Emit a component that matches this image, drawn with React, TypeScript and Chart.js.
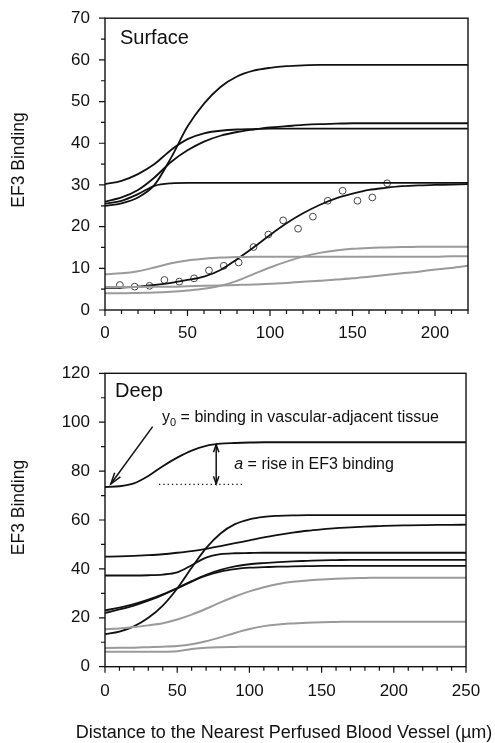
import React, { useEffect, useRef } from 'react';
import { Chart, registerables } from 'chart.js';

Chart.register(...registerables);

const FONT = '"Liberation Sans", Arial, Helvetica, sans-serif';
const INK = '#111111';
const GRAY = '#9a9a9a';

// ---------- Surface panel ----------
const SURFACE_X = [0, 10, 20, 30, 40, 50, 60, 70, 80, 90, 100, 110, 120, 130, 140, 150, 160, 170, 180, 190, 200, 210, 220];
const SURFACE_X_TICKS = [0, 50, 100, 150, 200];
const SURFACE_Y_TICKS = [0, 10, 20, 30, 40, 50, 60, 70];

const surfaceBlackA = [25.0, 25.6, 27.0, 30.0, 36.5, 44.0, 49.5, 53.5, 56.0, 57.4, 58.1, 58.5, 58.7, 58.8, 58.8, 58.8, 58.8, 58.8, 58.8, 58.8, 58.8, 58.8, 58.8];
const surfaceBlackB = [30.2, 31.0, 32.6, 35.0, 38.4, 41.0, 42.4, 43.0, 43.3, 43.4, 43.5, 43.5, 43.5, 43.5, 43.5, 43.5, 43.5, 43.5, 43.5, 43.5, 43.5, 43.5, 43.5];
const surfaceBlackC = [26.0, 27.0, 28.8, 31.8, 35.5, 38.3, 40.4, 41.8, 42.7, 43.3, 43.8, 44.1, 44.4, 44.6, 44.7, 44.8, 44.8, 44.8, 44.8, 44.8, 44.8, 44.8, 44.8];
const surfaceBlackD = [25.5, 26.2, 27.8, 29.8, 30.4, 30.5, 30.5, 30.5, 30.5, 30.5, 30.5, 30.5, 30.5, 30.5, 30.5, 30.5, 30.5, 30.5, 30.5, 30.5, 30.5, 30.5, 30.5];
const surfaceFit = [5.3, 5.4, 5.6, 6.0, 6.5, 7.2, 8.0, 9.6, 12.2, 15.0, 18.0, 20.8, 23.2, 25.2, 26.8, 27.9, 28.8, 29.3, 29.7, 29.9, 30.0, 30.1, 30.2];
const surfaceGray1 = [8.6, 8.8, 9.3, 10.2, 11.2, 11.9, 12.3, 12.6, 12.7, 12.8, 12.8, 12.8, 12.8, 12.8, 12.8, 12.8, 12.8, 12.8, 12.8, 12.8, 12.8, 12.9, 12.9];
const surfaceGray2 = [4.0, 4.0, 4.1, 4.2, 4.4, 4.7, 5.1, 5.8, 7.0, 8.6, 10.2, 11.6, 12.8, 13.7, 14.3, 14.7, 14.9, 15.0, 15.1, 15.2, 15.2, 15.2, 15.2];
const surfaceGray3 = [5.5, 5.5, 5.5, 5.6, 5.6, 5.7, 5.8, 5.9, 6.0, 6.1, 6.3, 6.5, 6.8, 7.0, 7.3, 7.6, 8.0, 8.4, 8.8, 9.2, 9.7, 10.1, 10.6];

const surfaceObsX = [9, 18, 27, 36, 45, 54, 63, 72, 81, 90, 99, 108, 117, 126, 135, 144, 153, 162, 171];
const surfaceObsY = [6.0, 5.6, 5.8, 7.2, 6.8, 7.6, 9.5, 10.6, 11.4, 15.1, 18.1, 21.5, 19.5, 22.4, 26.2, 28.6, 26.2, 27.0, 30.4];

// ---------- Deep panel ----------
const DEEP_X = [0, 10, 20, 30, 40, 50, 60, 70, 80, 90, 100, 110, 120, 130, 140, 150, 160, 170, 180, 190, 200, 210, 220, 230, 240, 250];
const DEEP_X_TICKS = [0, 50, 100, 150, 200, 250];
const DEEP_Y_TICKS = [0, 20, 40, 60, 80, 100, 120];

const deepTop = [73.5, 73.8, 75.0, 78.0, 82.0, 85.5, 88.4, 90.3, 91.2, 91.5, 91.7, 91.8, 91.8, 91.8, 91.8, 91.8, 91.8, 91.8, 91.8, 91.8, 91.8, 91.8, 91.8, 91.8, 91.8, 91.8];
const deepBlack1 = [45.0, 45.1, 45.3, 45.6, 46.0, 46.6, 47.3, 48.2, 49.3, 50.5, 51.7, 52.9, 53.9, 54.8, 55.6, 56.2, 56.7, 57.0, 57.3, 57.5, 57.7, 57.8, 57.9, 58.0, 58.0, 58.1];
const deepBlack2 = [13.3, 14.3, 16.5, 20.0, 25.0, 32.0, 40.5, 48.5, 54.5, 58.3, 60.3, 61.3, 61.7, 61.9, 62.0, 62.0, 62.0, 62.0, 62.0, 62.0, 62.0, 62.0, 62.0, 62.0, 62.0, 62.0];
const deepBlack3 = [37.3, 37.3, 37.3, 37.4, 37.7, 38.6, 41.5, 44.6, 46.0, 46.4, 46.5, 46.6, 46.6, 46.6, 46.6, 46.6, 46.6, 46.6, 46.6, 46.6, 46.6, 46.6, 46.6, 46.6, 46.6, 46.6];
const deepBlack4 = [23.0, 24.2, 25.6, 27.4, 29.6, 32.2, 35.0, 37.6, 39.6, 41.0, 41.9, 42.4, 42.8, 43.1, 43.3, 43.5, 43.6, 43.7, 43.7, 43.7, 43.7, 43.7, 43.7, 43.7, 43.7, 43.7];
const deepBlack5 = [22.0, 23.4, 25.0, 27.0, 29.4, 32.0, 34.8, 37.2, 38.9, 39.9, 40.5, 40.7, 40.9, 41.0, 41.1, 41.2, 41.2, 41.2, 41.2, 41.2, 41.2, 41.2, 41.2, 41.2, 41.2, 41.2];
const deepGray1 = [15.3, 15.6, 16.2, 16.9, 17.8, 19.3, 21.3, 23.7, 26.3, 28.7, 30.8, 32.5, 33.8, 34.7, 35.3, 35.7, 36.0, 36.2, 36.3, 36.4, 36.4, 36.4, 36.4, 36.4, 36.4, 36.4];
const deepGray2 = [7.6, 7.7, 7.8, 8.0, 8.2, 8.5, 9.2, 10.4, 12.0, 13.8, 15.4, 16.6, 17.3, 17.7, 18.0, 18.2, 18.3, 18.4, 18.4, 18.4, 18.4, 18.4, 18.4, 18.4, 18.4, 18.4];
const deepGray3 = [6.1, 6.1, 6.1, 6.1, 6.1, 6.3, 7.2, 7.8, 8.0, 8.1, 8.2, 8.2, 8.2, 8.2, 8.2, 8.2, 8.2, 8.2, 8.2, 8.2, 8.2, 8.2, 8.2, 8.2, 8.2, 8.2];

// annotation anchors (data coordinates)
const Y0_ARROW_FROM = [33, 98.2];
const Y0_ARROW_TO = [4, 74.7];
const RISE_X = 77;
const RISE_TOP = 90.8;
const RISE_BOTTOM = 74.8;
const BASE_FROM_X = 37.4;
const BASE_TO_X = 96.4;
const BASE_Y = 74.6;
const Y0_LABEL_AT = [39.5, 101.7];
const A_LABEL_AT = [89.5, 82.5];

const Y_TITLE = 'EF3 Binding';
const X_TITLE = 'Distance to the Nearest Perfused Blood Vessel (\u00b5m)';

const toPts = (xs: number[], ys: number[]) => xs.map((x, i) => ({ x, y: ys[i] }));

const lineDs = (xs: number[], ys: number[], color: string, width: number) => ({
  type: 'line',
  data: toPts(xs, ys),
  borderColor: color,
  borderWidth: width,
  pointRadius: 0,
  cubicInterpolationMode: 'monotone',
  fill: false,
});

const decor = {
  id: 'decor',
  afterDraw(chart: any, _args: any, o: any) {
    const { ctx, chartArea: a } = chart;
    const x = chart.scales.x;
    const y = chart.scales.y;
    ctx.save();
    ctx.strokeStyle = INK;
    ctx.lineWidth = 1.4;
    ctx.strokeRect(a.left, a.top, a.right - a.left, a.bottom - a.top);
    ctx.lineWidth = 1.2;
    ctx.beginPath();
    for (let v = x.min; v <= x.max + 1e-6; v += o.minorX) {
      const major = Math.abs(v % o.majorX) < 1e-6;
      const px = x.getPixelForValue(v);
      ctx.moveTo(px, a.bottom);
      ctx.lineTo(px, a.bottom + (major ? 6 : 4));
    }
    for (let v = y.min; v <= y.max + 1e-6; v += o.minorY) {
      const major = Math.abs(v % o.majorY) < 1e-6;
      const py = y.getPixelForValue(v);
      ctx.moveTo(a.left, py);
      ctx.lineTo(a.left - (major ? 6 : 4), py);
    }
    ctx.stroke();
    ctx.fillStyle = INK;
    ctx.font = `20px ${FONT}`;
    ctx.textAlign = 'left';
    ctx.textBaseline = 'middle';
    ctx.fillText(o.label, a.left + o.labelDX, a.top + o.labelDY);
    if (o.xTitle) {
      ctx.textAlign = 'center';
      ctx.font = `18px ${FONT}`;
      ctx.fillText(X_TITLE, o.xTitleX, o.xTitleY);
    }
    ctx.translate(o.titleX, o.titleY);
    ctx.rotate(-Math.PI / 2);
    ctx.textAlign = 'center';
    ctx.font = `17.5px ${FONT}`;
    ctx.fillText(Y_TITLE, 0, 0);
    ctx.restore();
  },
};

function arrowHead(ctx: CanvasRenderingContext2D, tx: number, ty: number, fx: number, fy: number, len: number, spread: number) {
  const ang = Math.atan2(ty - fy, tx - fx);
  ctx.beginPath();
  ctx.moveTo(tx - len * Math.cos(ang - spread), ty - len * Math.sin(ang - spread));
  ctx.lineTo(tx, ty);
  ctx.lineTo(tx - len * Math.cos(ang + spread), ty - len * Math.sin(ang + spread));
  ctx.stroke();
}

const deepNotes = {
  id: 'deepNotes',
  afterDatasetsDraw(chart: any) {
    const { ctx } = chart;
    const x = chart.scales.x;
    const y = chart.scales.y;
    const P = (d: number[]) => [x.getPixelForValue(d[0]), y.getPixelForValue(d[1])];
    ctx.save();
    ctx.strokeStyle = INK;
    ctx.fillStyle = INK;
    ctx.lineWidth = 1.5;
    const [fx, fy] = P(Y0_ARROW_FROM);
    const [tx, ty] = P(Y0_ARROW_TO);
    ctx.beginPath();
    ctx.moveTo(fx, fy);
    ctx.lineTo(tx, ty);
    ctx.stroke();
    arrowHead(ctx, tx, ty, fx, fy, 12, 0.3);
    const rx = x.getPixelForValue(RISE_X);
    const rt = y.getPixelForValue(RISE_TOP);
    const rb = y.getPixelForValue(RISE_BOTTOM);
    ctx.beginPath();
    ctx.moveTo(rx, rt);
    ctx.lineTo(rx, rb);
    ctx.stroke();
    arrowHead(ctx, rx, rt, rx, rb, 8, 0.35);
    arrowHead(ctx, rx, rb, rx, rt, 8, 0.35);
    ctx.lineWidth = 1.2;
    ctx.setLineDash([1.3, 3]);
    ctx.beginPath();
    ctx.moveTo(x.getPixelForValue(BASE_FROM_X), y.getPixelForValue(BASE_Y));
    ctx.lineTo(x.getPixelForValue(BASE_TO_X), y.getPixelForValue(BASE_Y));
    ctx.stroke();
    ctx.setLineDash([]);
    ctx.textBaseline = 'middle';
    ctx.textAlign = 'left';
    let [lx, ly] = P(Y0_LABEL_AT);
    ctx.font = `16px ${FONT}`;
    ctx.fillText('y', lx, ly);
    lx += ctx.measureText('y').width;
    ctx.font = `11px ${FONT}`;
    ctx.fillText('0', lx, ly + 5);
    lx += ctx.measureText('0').width;
    ctx.font = `16px ${FONT}`;
    ctx.fillText(' = binding in vascular-adjacent tissue', lx, ly);
    let [ax, ay] = P(A_LABEL_AT);
    ctx.font = `italic 16px ${FONT}`;
    ctx.fillText('a', ax, ay);
    ax += ctx.measureText('a').width;
    ctx.font = `16px ${FONT}`;
    ctx.fillText(' = rise in EF3 binding', ax, ay);
    ctx.restore();
  },
};

const GRID_OFF = { display: false, drawTicks: false, tickLength: 0 };
const tickFont = { family: FONT, size: 17 };

function makeScales(xMax: number, xTicks: number[], yMax: number, yTicks: number[], xHeight: number, xPad: number) {
  return {
    x: {
      type: 'linear',
      min: 0,
      max: xMax,
      afterBuildTicks: (s: any) => { s.ticks = xTicks.map((v) => ({ value: v })); },
      afterFit: (s: any) => { s.height = xHeight; },
      grid: GRID_OFF,
      border: { display: false },
      ticks: { font: tickFont, color: INK, padding: xPad, maxRotation: 0, autoSkip: false },
    },
    y: {
      type: 'linear',
      min: 0,
      max: yMax,
      afterBuildTicks: (s: any) => { s.ticks = yTicks.map((v) => ({ value: v })); },
      afterFit: (s: any) => { s.width = 105; },
      grid: GRID_OFF,
      border: { display: false },
      ticks: { font: tickFont, color: INK, padding: 15, autoSkip: false },
    },
  };
}

export default function App() {
  const topRef = useRef<HTMLCanvasElement>(null);
  const botRef = useRef<HTMLCanvasElement>(null);

  useEffect(() => {
    const top = new Chart(topRef.current as HTMLCanvasElement, {
      type: 'line',
      data: {
        datasets: [
          lineDs(SURFACE_X, surfaceGray1, GRAY, 2),
          lineDs(SURFACE_X, surfaceGray2, GRAY, 2),
          lineDs(SURFACE_X, surfaceGray3, GRAY, 2),
          lineDs(SURFACE_X, surfaceBlackA, INK, 1.8),
          lineDs(SURFACE_X, surfaceBlackB, INK, 1.8),
          lineDs(SURFACE_X, surfaceBlackC, INK, 1.8),
          lineDs(SURFACE_X, surfaceBlackD, INK, 1.8),
          lineDs(SURFACE_X, surfaceFit, INK, 1.8),
          {
            type: 'line',
            data: toPts(surfaceObsX, surfaceObsY),
            showLine: false,
            pointRadius: 3.4,
            pointBorderWidth: 1,
            pointBorderColor: '#444444',
            pointBackgroundColor: 'rgba(255,255,255,0)',
          },
        ] as any,
      },
      options: {
        responsive: false,
        animation: false,
        devicePixelRatio: 1,
        layout: { padding: { top: 24, right: 27, left: 0, bottom: 0 } },
        scales: makeScales(220, SURFACE_X_TICKS, 70, SURFACE_Y_TICKS, 35, 12.8) as any,
        plugins: {
          legend: { display: false },
          tooltip: { enabled: false },
          decor: { minorX: 10, majorX: 50, minorY: 5, majorY: 10, label: 'Surface', labelDX: 15, labelDY: 20, titleX: 19, titleY: 167 },
        } as any,
      },
      plugins: [decor],
    });

    const bot = new Chart(botRef.current as HTMLCanvasElement, {
      type: 'line',
      data: {
        datasets: [
          lineDs(DEEP_X, deepGray1, GRAY, 2),
          lineDs(DEEP_X, deepGray2, GRAY, 2),
          lineDs(DEEP_X, deepGray3, GRAY, 2),
          lineDs(DEEP_X, deepTop, INK, 1.8),
          lineDs(DEEP_X, deepBlack1, INK, 1.8),
          lineDs(DEEP_X, deepBlack2, INK, 1.8),
          lineDs(DEEP_X, deepBlack3, INK, 1.8),
          lineDs(DEEP_X, deepBlack4, INK, 1.8),
          lineDs(DEEP_X, deepBlack5, INK, 1.8),
        ] as any,
      },
      options: {
        responsive: false,
        animation: false,
        devicePixelRatio: 1,
        layout: { padding: { top: 28.3, right: 27, left: 0, bottom: 0 } },
        scales: makeScales(250, DEEP_X_TICKS, 120, DEEP_Y_TICKS, 76.3, 14.8) as any,
        plugins: {
          legend: { display: false },
          tooltip: { enabled: false },
          decor: {
            minorX: 10, majorX: 50, minorY: 10, majorY: 20,
            label: 'Deep', labelDX: 10, labelDY: 18.4,
            titleX: 19, titleY: 162.5,
            xTitle: true, xTitleX: 284, xTitleY: 388,
          },
        } as any,
      },
      plugins: [decor, deepNotes],
    });

    return () => {
      top.destroy();
      bot.destroy();
    };
  }, []);

  return (
    <div style={{ position: 'absolute', left: 0, top: 0, width: 495, height: 743, overflow: 'hidden', background: '#ffffff' }}>
      <canvas ref={topRef} width={495} height={352} style={{ display: 'block', width: 495, height: 352, marginTop: -7 }} />
      <canvas ref={botRef} width={495} height={398} style={{ display: 'block', width: 495, height: 398 }} />
    </div>
  );
}
